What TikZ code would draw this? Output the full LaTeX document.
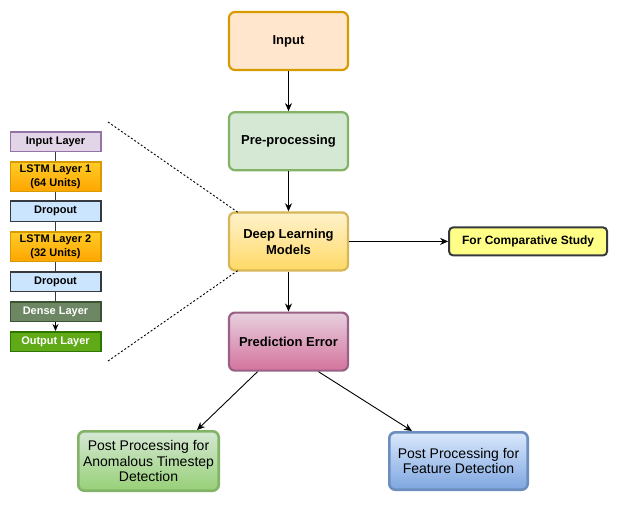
\documentclass[tikz,border=0pt]{standalone}
\usepackage{fontspec}
\setmainfont{Liberation Sans}
\usetikzlibrary{arrows.meta,positioning}

% colours
\definecolor{inFill}{HTML}{FFE6CC}
\definecolor{inLine}{HTML}{D79B00}
\definecolor{preFill}{HTML}{D5E8D4}
\definecolor{preLine}{HTML}{82B366}
\definecolor{dlTop}{HTML}{FFF2CC}
\definecolor{dlBot}{HTML}{FFD966}
\definecolor{dlLine}{HTML}{D6B656}
\definecolor{peTop}{HTML}{E6D0DE}
\definecolor{peBot}{HTML}{D5739D}
\definecolor{peLine}{HTML}{996185}
\definecolor{cmpFill}{HTML}{FFFF88}
\definecolor{darkLine}{HTML}{36393D}
\definecolor{anBot}{HTML}{97D077}
\definecolor{ftTop}{HTML}{DAE8FC}
\definecolor{ftBot}{HTML}{7EA6E0}
\definecolor{ftLine}{HTML}{6C8EBF}
\definecolor{ilFill}{HTML}{E1D5E7}
\definecolor{ilLine}{HTML}{9673A6}
\definecolor{lstmTop}{HTML}{FFCD28}
\definecolor{lstmBot}{HTML}{FFA500}
\definecolor{dropFill}{HTML}{CCE5FF}
\definecolor{denseFill}{HTML}{6D8764}
\definecolor{denseLine}{HTML}{3A5431}
\definecolor{outFill}{HTML}{60A917}
\definecolor{outLine}{HTML}{2D7600}

\begin{document}
\begin{tikzpicture}[x=1pt, y=-1pt]
    % --- styles ---
    \tikzstyle{mainbox}=[draw, rounded corners=6pt, line width=2.2pt, align=center,
        minimum width=119pt, minimum height=58pt, inner sep=2pt,
        font=\fontsize{13}{16}\selectfont\bfseries]
    \tikzstyle{postbox}=[mainbox, line width=2.6pt, font=\fontsize{14}{15.7}\selectfont]
    \tikzstyle{layer}=[draw, line width=1.5pt, align=center, minimum width=90.5pt,
        minimum height=19.5pt, inner sep=1pt, font=\fontsize{11}{14}\selectfont\bfseries]
    \tikzstyle{flow}=[->, >={Stealth[length=8pt,width=7pt]}, line width=0.9pt]
    \tikzstyle{link}=[line width=0.9pt, darkLine]
    \tikzstyle{zoomline}=[line width=0.9pt, dash pattern=on 2pt off 2pt]

    \useasboundingbox (0,0) rectangle (620,504);

    % ====== main pipeline ======
    \node[mainbox, fill=inFill, draw=inLine] (input) at (288.5,41) {Input};
    \node[mainbox, fill=preFill, draw=preLine, below=40pt of input] (prep) {Pre-processing};
    \node[mainbox, top color=dlTop, bottom color=dlBot, draw=dlLine, below=40pt of prep] (dl)
        {Deep Learning\\Models};
    \node[mainbox, top color=peTop, bottom color=peBot, draw=peLine, below=40pt of dl] (pe)
        {Prediction Error};

    % side output
    \node[mainbox, fill=cmpFill, draw=darkLine, rounded corners=4pt, line width=2pt,
        minimum width=158pt, minimum height=28pt, font=\fontsize{12}{14}\selectfont\bfseries,
        right=99pt of dl] (cmp) {For Comparative Study};

    % post processing
    \node[postbox, top color=preFill, bottom color=anBot, draw=preLine,
        minimum width=140.4pt, minimum height=59.4pt] (anom) at (148.5,461)
        {Post Processing for\\Anomalous Timestep\\Detection};
    \node[postbox, top color=ftTop, bottom color=ftBot, draw=ftLine,
        minimum width=138.4pt, minimum height=57.4pt] (feat) at (458.5,461)
        {Post Processing for\\Feature Detection};

    % arrows
    \draw[flow] (input) -- (prep);
    \draw[flow] (prep) -- (dl);
    \draw[flow] (dl) -- (pe);
    \draw[flow] (dl) -- (cmp);
    \draw[flow] ([xshift=-31pt]pe.south) -- ([xshift=48.5pt]anom.north);
    \draw[flow] ([xshift=30pt]pe.south) -- ([xshift=-46.5pt]feat.north);

    % ====== LSTM network detail ======
    \node[layer, fill=ilFill, draw=ilLine] (inl) at (55.5,141.5) {Input Layer};
    \node[layer, top color=lstmTop, bottom color=lstmBot, draw=inLine, minimum height=29.5pt,
        below=9pt of inl] (lstma) {LSTM Layer 1\\(64 Units)};
    \node[layer, fill=dropFill, draw=darkLine, minimum height=20.5pt,
        below=8pt of lstma] (dropa) {Dropout};
    \node[layer, top color=lstmTop, bottom color=lstmBot, draw=inLine, minimum height=29.5pt,
        below=9pt of dropa] (lstmb) {LSTM Layer 2\\(32 Units)};
    \node[layer, fill=dropFill, draw=darkLine, below=9pt of lstmb] (dropb) {Dropout};
    \node[layer, fill=denseFill, draw=denseLine, text=white, below=9pt of dropb] (dense)
        {Dense Layer};
    \node[layer, fill=outFill, draw=outLine, text=white, below=9pt of dense] (outl)
        {Output Layer};

    % links between layers
    \foreach \a/\b in {inl/lstma, lstma/dropa, dropa/lstmb, lstmb/dropb, dropb/dense}
        \draw[link] (\a) -- (\b);
    \draw[flow, >={Stealth[length=7pt,width=6pt]}] (dense) -- (outl);

    % zoom lines to the model box
    \coordinate (zoomtop) at (108,122);
    \coordinate (zoombot) at (108,361);
    \draw[zoomline] (zoomtop) -- ([xshift=10pt, yshift=-1pt]dl.north west);
    \draw[zoomline] (zoombot) -- ([xshift=10pt, yshift=1pt]dl.south west);

\end{tikzpicture}
\end{document}
